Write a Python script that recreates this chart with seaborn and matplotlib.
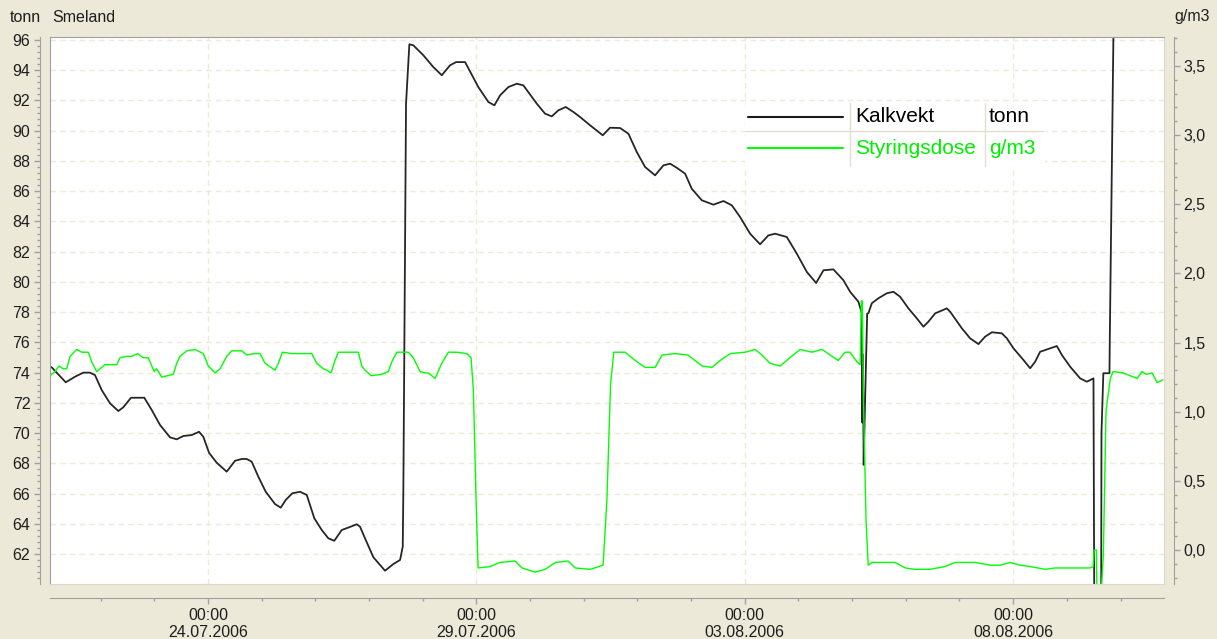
import numpy as np
import pandas as pd
import matplotlib
matplotlib.use("Agg")
import matplotlib.pyplot as plt
import matplotlib.dates as mdates
import seaborn as sns
from matplotlib.ticker import MultipleLocator, AutoMinorLocator, FuncFormatter
from matplotlib.lines import Line2D
from matplotlib.patches import Rectangle

# Kalkvekt (tonn), time as days after 24.07.2006 00:00
kalk_dag = [-2.944, -2.912, -2.651, -2.478, -2.324, -2.199, -2.106, -1.981, -1.826, -1.671,
            -1.578, -1.435, -1.187, -1.049, -0.894, -0.708, -0.583, -0.460, -0.304, -0.168,
            -0.088, 0.019, 0.162, 0.348, 0.503, 0.628, 0.721, 0.814, 0.937, 1.075,
            1.248, 1.355, 1.448, 1.571, 1.714, 1.839, 1.981, 2.119, 2.242, 2.353,
            2.491, 2.627, 2.771, 2.832, 2.925, 3.080, 3.298, 3.453, 3.578, 3.628,
            3.639, 3.652, 3.665, 3.689, 3.751, 3.825, 4.012, 4.198, 4.355, 4.509,
            4.621, 4.789, 5.036, 5.223, 5.335, 5.441, 5.596, 5.752, 5.875, 6.125,
            6.279, 6.404, 6.527, 6.665, 6.807, 6.931, 7.118, 7.354, 7.490, 7.677,
            7.832, 7.988, 8.143, 8.329, 8.484, 8.608, 8.733, 8.888, 9.013, 9.199,
            9.415, 9.602, 9.758, 9.913, 10.099, 10.285, 10.440, 10.565, 10.783, 10.969,
            11.156, 11.329, 11.465, 11.651, 11.838, 11.962, 12.117, 12.180, 12.190, 12.200,
            12.215, 12.240, 12.280, 12.303, 12.367, 12.490, 12.646, 12.769, 12.894, 13.049,
            13.205, 13.328, 13.421, 13.546, 13.764, 13.826, 14.044, 14.198, 14.353, 14.478,
            14.603, 14.789, 14.882, 15.005, 15.191, 15.316, 15.409, 15.502, 15.689, 15.814,
            15.907, 16.062, 16.248, 16.373, 16.496, 16.510, 16.640, 16.645, 16.680, 16.794,
            16.800, 16.870]
kalk_tonn = [74.40, 74.35, 73.36, 73.73, 74.00, 74.00, 73.84, 72.85, 71.97, 71.46,
             71.71, 72.34, 72.34, 71.53, 70.54, 69.72, 69.59, 69.81, 69.87, 70.09,
             69.76, 68.70, 68.04, 67.45, 68.17, 68.29, 68.29, 68.11, 67.12, 66.12,
             65.31, 65.07, 65.58, 66.02, 66.12, 65.91, 64.36, 63.59, 63.04, 62.88,
             63.59, 63.77, 63.97, 63.81, 63.04, 61.79, 60.90, 61.34, 61.61, 62.49,
             66.24, 72.85, 79.22, 91.79, 95.72, 95.65, 94.99, 94.21, 93.67, 94.33,
             94.54, 94.54, 92.89, 91.90, 91.68, 92.34, 92.89, 93.11, 93.00, 91.79,
             91.13, 90.95, 91.35, 91.57, 91.24, 90.91, 90.36, 89.70, 90.20, 90.18,
             89.80, 88.59, 87.60, 87.05, 87.71, 87.82, 87.55, 87.16, 86.16, 85.40,
             85.11, 85.35, 85.07, 84.29, 83.19, 82.49, 83.08, 83.19, 82.97, 81.87,
             80.66, 79.93, 80.77, 80.83, 80.11, 79.35, 78.69, 77.94, 70.70, 75.20,
             67.90, 72.00, 77.90, 77.93, 78.59, 78.92, 79.25, 79.35, 79.02, 78.25,
             77.59, 77.04, 77.37, 77.92, 78.25, 78.03, 76.93, 76.27, 75.89, 76.38,
             76.67, 76.60, 76.27, 75.61, 74.84, 74.29, 74.72, 75.38, 75.61, 75.76,
             75.17, 74.39, 73.62, 73.40, 73.62, 59.50, 59.50, 70.00, 73.96, 73.96,
             76.20, 97.00]

# Styringsdose (g/m3)
dose_dag = [-2.944, -2.851, -2.776, -2.696, -2.633, -2.571, -2.446, -2.353, -2.230, -2.167,
            -2.074, -1.919, -1.701, -1.640, -1.515, -1.422, -1.310, -1.206, -1.112, -1.049,
            -1.001, -0.956, -0.863, -0.647, -0.583, -0.522, -0.397, -0.242, -0.088, 0.006,
            0.130, 0.224, 0.348, 0.442, 0.628, 0.721, 0.876, 0.969, 1.062, 1.248,
            1.310, 1.384, 1.560, 1.932, 2.025, 2.148, 2.212, 2.292, 2.366, 2.428,
            2.584, 2.801, 2.864, 2.925, 3.037, 3.237, 3.360, 3.423, 3.516, 3.732,
            3.825, 3.950, 4.043, 4.105, 4.230, 4.355, 4.478, 4.634, 4.820, 4.900,
            4.943, 4.994, 5.031, 5.25, 5.44, 5.72, 5.85, 6.09, 6.28, 6.47,
            6.71, 6.84, 7.12, 7.36, 7.43, 7.50, 7.56, 7.77, 7.96, 8.14,
            8.33, 8.46, 8.70, 8.94, 9.07, 9.21, 9.39, 9.54, 9.73, 10.01,
            10.19, 10.32, 10.47, 10.66, 10.84, 11.03, 11.25, 11.44, 11.59, 11.74,
            11.87, 11.96, 12.09, 12.15, 12.17, 12.19, 12.21, 12.26, 12.30, 12.37,
            12.80, 12.99, 13.17, 13.45, 13.73, 13.92, 14.29, 14.57, 14.76, 14.94,
            15.13, 15.32, 15.60, 15.78, 16.06, 16.25, 16.43, 16.49, 16.51, 16.55,
            16.56, 16.64, 16.68, 16.73, 16.81, 16.86, 17.05, 17.18, 17.31, 17.40,
            17.48, 17.59, 17.68, 17.79]
dose_gm3 = [1.26, 1.29, 1.33, 1.31, 1.31, 1.40, 1.45, 1.43, 1.43, 1.36,
            1.29, 1.34, 1.34, 1.39, 1.40, 1.40, 1.42, 1.39, 1.39, 1.33,
            1.29, 1.31, 1.25, 1.27, 1.35, 1.40, 1.44, 1.45, 1.42, 1.33,
            1.28, 1.31, 1.40, 1.44, 1.44, 1.41, 1.42, 1.42, 1.35, 1.30,
            1.35, 1.43, 1.42, 1.42, 1.35, 1.31, 1.30, 1.28, 1.37, 1.43,
            1.43, 1.43, 1.33, 1.30, 1.26, 1.27, 1.29, 1.36, 1.43, 1.43,
            1.39, 1.29, 1.28, 1.28, 1.24, 1.35, 1.43, 1.43, 1.42, 1.39,
            1.16, 0.36, -0.13, -0.12, -0.09, -0.08, -0.13, -0.16, -0.14, -0.09,
            -0.08, -0.13, -0.14, -0.11, 0.35, 1.20, 1.43, 1.43, 1.37, 1.32,
            1.32, 1.41, 1.42, 1.41, 1.37, 1.33, 1.32, 1.37, 1.42, 1.43,
            1.45, 1.41, 1.35, 1.33, 1.39, 1.45, 1.43, 1.45, 1.41, 1.37,
            1.43, 1.43, 1.36, 1.34, 1.80, 1.80, 1.10, 0.20, -0.11, -0.09,
            -0.09, -0.13, -0.14, -0.14, -0.12, -0.09, -0.09, -0.11, -0.11, -0.09,
            -0.11, -0.12, -0.14, -0.13, -0.13, -0.13, -0.13, -0.12, 0.00, 0.00,
            -0.30, -0.30, -0.04, 1.01, 1.24, 1.29, 1.28, 1.26, 1.24, 1.29,
            1.27, 1.28, 1.21, 1.23]

start = pd.Timestamp("2006-07-24")
tick_dates = pd.date_range("2006-07-24", "2006-08-08", freq="5D")
kalk_tid = start + pd.to_timedelta(kalk_dag, unit="D")
dose_tid = start + pd.to_timedelta(dose_dag, unit="D")

sns.set_style("ticks")
plt.rcParams['font.family'] = ['Liberation Sans', 'DejaVu Sans']

W, H = 1217, 639
def px(x):
    return x / W
def py(y):
    return 1 - y / H

bg = '#ECE9D8'
axis_col = '#A0A0A0'
txt_col = '#1e1e1e'

fig = plt.figure(figsize=(W / 100, H / 100), dpi=100, facecolor=bg)
ax = fig.add_axes([px(50), py(584), (1164 - 50) / W, (584 - 37) / H])
ax.set_facecolor('white')
ax2 = ax.twinx()

sns.lineplot(x=kalk_tid, y=kalk_tonn, ax=ax, color='#262626', lw=1.3, sort=False, estimator=None)
sns.lineplot(x=dose_tid, y=dose_gm3, ax=ax2, color='#00ff00', lw=1.0, sort=False, estimator=None)

ax.set_xlim(start + pd.Timedelta(days=-2.944), start + pd.Timedelta(days=17.81))
ax.set_ylim(60.02, 96.2)
ax2.set_ylim(-0.246, 3.709)
for a in (ax, ax2):
    a.set_xlabel('')
    a.set_ylabel('')

# ticks
ax.yaxis.set_major_locator(MultipleLocator(2))
ax.yaxis.set_minor_locator(AutoMinorLocator(5))
ax2.yaxis.set_major_locator(MultipleLocator(0.5))
ax2.yaxis.set_minor_locator(AutoMinorLocator(5))
ax2.yaxis.set_major_formatter(FuncFormatter(lambda v, p: f'{v:.1f}'.replace('.', ',')))
ax.set_xticks(tick_dates)
ax.xaxis.set_minor_locator(mdates.DayLocator())
ax.xaxis.set_major_formatter(mdates.DateFormatter('%H:%M\n%d.%m.%Y'))

ax.tick_params(axis='y', which='major', left=True, length=4, width=1, color=axis_col,
               labelsize=11.5, labelcolor=txt_col, pad=3)
ax.tick_params(axis='y', which='minor', left=True, length=2, width=1, color=axis_col)
ax.tick_params(axis='x', which='major', bottom=True, length=4, width=1, color=axis_col,
               labelsize=11.5, labelcolor=txt_col, pad=3)
ax.tick_params(axis='x', which='minor', bottom=True, length=2, width=1, color=axis_col)
ax2.tick_params(axis='y', which='major', right=True, length=4, width=1, color=axis_col,
                labelsize=11.5, labelcolor=txt_col, pad=3)
ax2.tick_params(axis='y', which='minor', right=True, length=2, width=1, color=axis_col)

# spines: offset axes + sunken frame
ax.spines['left'].set_position(('outward', 7.2))
ax.spines['bottom'].set_position(('outward', 10))
ax.spines['left'].set_color(axis_col)
ax.spines['bottom'].set_color(axis_col)
ax.spines['top'].set_visible(True)
ax.spines['top'].set_color(axis_col)
ax.spines['right'].set_visible(True)
ax.spines['right'].set_color('#DAD7CB')
ax2.spines['right'].set_position(('outward', 7.2))
ax2.spines['right'].set_color(axis_col)
ax2.spines['left'].set_visible(True)
ax2.spines['left'].set_color(axis_col)
ax2.spines['top'].set_visible(False)
ax2.spines['bottom'].set_visible(True)
ax2.spines['bottom'].set_color('#DAD7CB')

ax.grid(True, which='major', axis='both', color='#EDEAD6', linestyle=(0, (4, 3)), linewidth=1)
ax.set_axisbelow(True)

# titles
fig.text(px(10), py(17), 'tonn', va='center', ha='left', fontsize=11.5, color=txt_col)
fig.text(px(52), py(17), 'Smeland', va='center', ha='left', fontsize=11.5, color=txt_col)
fig.text(px(1210), py(17), 'g/m3', va='center', ha='right', fontsize=11.5, color=txt_col)

# legend table
sep = '#E2DFD0'
fig.add_artist(Rectangle((px(745), py(166)), (1045 - 745) / W, (166 - 103) / H,
                         transform=fig.transFigure, facecolor='white', edgecolor='none'))
fig.add_artist(Line2D([px(745), px(1043)], [py(131), py(131)], transform=fig.transFigure, color=sep, lw=1))
for xs in (850, 985):
    fig.add_artist(Line2D([px(xs), px(xs)], [py(103), py(166)], transform=fig.transFigure, color=sep, lw=1))
rows = [('Kalkvekt', 'tonn', '#1a1a1a', 'black', 117), ('Styringsdose', 'g/m3', '#00ff00', '#00ee00', 148)]
for name, unit, col, tc, yy in rows:
    fig.add_artist(Line2D([px(748), px(843)], [py(yy), py(yy)], transform=fig.transFigure, color=col, lw=1.5))
    fig.text(px(855), py(yy), name, va='center', ha='left', fontsize=15, color=tc)
    fig.text(px(989), py(yy), unit, va='center', ha='left', fontsize=15, color=tc)

fig.savefig('out.png', dpi=100, facecolor=fig.get_facecolor())
